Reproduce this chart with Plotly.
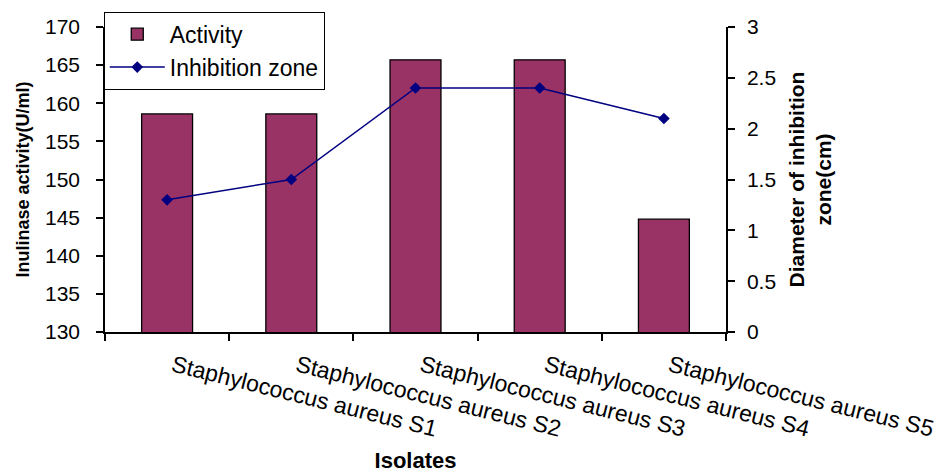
import plotly.graph_objects as go

categories = ["Staphylococcus aureus S1", "Staphylococcus aureus S2", "Staphylococcus aureus S3",
              "Staphylococcus aureus S4", "Staphylococcus aureus S5"]
activity = [158.6, 158.6, 165.7, 165.7, 144.8]
inhibition_zone = [1.3, 1.5, 2.4, 2.4, 2.1]
left_ticks = [130, 135, 140, 145, 150, 155, 160, 165, 170]
right_ticks = [0, 0.5, 1, 1.5, 2, 2.5, 3]
right_tick_text = ["0", "0.5", "1", "1.5", "2", "2.5", "3"]

FONT = "Liberation Sans, Arial, sans-serif"

fig = go.Figure()
fig.add_trace(go.Bar(
    x=categories, y=activity, name="Activity",
    marker=dict(color="#993366", line=dict(color="black", width=1.3)),
    width=0.41, xaxis="x", yaxis="y",
))
fig.add_trace(go.Scatter(
    x=categories, y=inhibition_zone, name="Inhibition zone",
    mode="lines+markers",
    line=dict(color="#000080", width=1.5),
    marker=dict(symbol="diamond", size=9, color="#000080"),
    xaxis="x", yaxis="y2",
))

# page body has an 8px margin: figure sized to fit the 943x473 window
fig.update_layout(
    width=935, height=465,
    margin=dict(l=97, r=217, t=19, b=141, autoexpand=False),
    paper_bgcolor="white", plot_bgcolor="white",
    font=dict(family=FONT, size=20, color="black"),
    showlegend=True,
    legend=dict(
        x=-0.002, y=1.05, xanchor="left", yanchor="top",
        bgcolor="white", bordercolor="black", borderwidth=1,
        font=dict(size=23), tracegroupgap=0, itemwidth=55,
    ),
    xaxis=dict(
        type="category", tickson="boundaries", automargin=False,
        showline=True, linecolor="black", linewidth=1.5,
        ticks="outside", ticklen=7, tickwidth=1.5, tickcolor="black",
        tickangle=14, tickfont=dict(size=23), ticklabelstandoff=10, ticklabelshift=6,
        showgrid=False, zeroline=False,
        title=dict(text="<b>Isolates</b>", font=dict(size=22), standoff=14),
    ),
    yaxis=dict(
        range=[130, 170], tickvals=left_ticks, automargin=False,
        showline=True, linecolor="black", linewidth=1.5,
        ticks="outside", ticklen=7, tickwidth=1.5, tickcolor="black",
        showgrid=False, zeroline=False, tickfont=dict(size=21), ticklabelstandoff=12,
        title=dict(text="<b>Inulinase activity(U/ml)</b>", font=dict(size=18), standoff=11),
    ),
    yaxis2=dict(
        overlaying="y", side="right", anchor="x", automargin=False,
        range=[0, 3], tickvals=right_ticks, ticktext=right_tick_text,
        showline=True, linecolor="black", linewidth=1.5,
        ticks="outside", ticklen=7, tickwidth=1.5, tickcolor="black",
        showgrid=False, zeroline=False, tickfont=dict(size=21), ticklabelstandoff=8,
        title=dict(text="<b>Diameter of inhibition<br>zone(cm)</b>", font=dict(size=21), standoff=14),
    ),
    xaxis3=dict(
        overlaying="x", anchor="y", type="linear", range=[-0.5, 4.5], automargin=False,
        tickvals=[-0.5, 0.5, 1.5, 2.5, 3.5, 4.5], showticklabels=False,
        ticks="inside", ticklen=6, tickwidth=1.5, tickcolor="black",
        showline=False, showgrid=False, zeroline=False,
    ),
    yaxis3=dict(
        overlaying="y", anchor="x", side="left", range=[130, 170], tickvals=left_ticks,
        automargin=False,
        showticklabels=False, ticks="inside", ticklen=6, tickwidth=1.5, tickcolor="black",
        showline=False, showgrid=False, zeroline=False,
    ),
    yaxis4=dict(
        overlaying="y", anchor="x", side="right", range=[0, 3], tickvals=right_ticks,
        automargin=False,
        showticklabels=False, ticks="inside", ticklen=8, tickwidth=1.5, tickcolor="black",
        showline=False, showgrid=False, zeroline=False,
    ),
    bargap=0.59,
)

fig.write_html("out.html")
